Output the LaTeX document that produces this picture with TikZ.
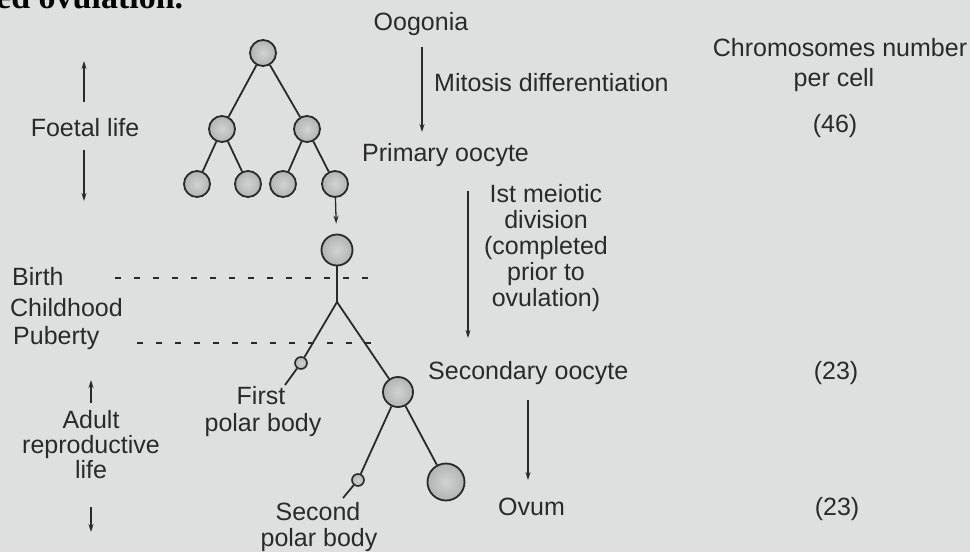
\documentclass[tikz,border=0pt]{standalone}
\usepackage{fontspec}
\setmainfont{Liberation Sans}
\newfontfamily\headfont{Liberation Serif}
\usetikzlibrary{arrows.meta}
\definecolor{bg}{RGB}{222,224,223}
\definecolor{ink}{RGB}{42,42,42}
\definecolor{cellin}{RGB}{210,210,210}
\definecolor{cellout}{RGB}{178,179,179}
\begin{document}
\begin{tikzpicture}[x=1pt,y=-1pt,
  lbl/.style={inner sep=0pt, text=ink, font=\fontsize{25}{27}\selectfont, anchor=base},
  cell/.style={circle, draw=ink, line width=1.8pt, inner color=cellin, outer color=cellout, inner sep=0pt, minimum size=#1},
  link/.style={draw=ink, line width=1.8pt},
  arr/.style={draw=ink, line width=1.3pt, -{Stealth[length=8pt,width=5pt]}},
  dots/.style={draw=ink, line width=2.4pt, dash pattern=on 6pt off 13pt}]
\fill[bg] (0,0) rectangle (970,552);
\useasboundingbox (0,0) rectangle (970,552);

% clipped heading of the page
\node[anchor=base west, inner sep=0pt, text=black, font=\headfont\bfseries\fontsize{34}{34}\selectfont] (head) at (-4,8) {ed ovulation.};

% cells
\node[cell=26pt] (og) at (263,53) {};
\node[cell=26pt] (l2a) at (222,129) {};
\node[cell=26pt] (l2b) at (307,129) {};
\node[cell=26pt] (l3a) at (197,184) {};
\node[cell=26pt] (l3b) at (248,184) {};
\node[cell=26pt] (l3c) at (283,184) {};
\node[cell=26pt] (l3d) at (335,184) {};
\node[cell=31pt] (po) at (337,250) {};
\coordinate (br) at (337,302);
\node[cell=12pt, line width=1.6pt] (pb1) at (301,363) {};
\coordinate (pb1t) at (285,385);
\node[cell=30pt] (so) at (398,392) {};
\node[cell=12pt, line width=1.6pt] (pb2) at (358,480) {};
\coordinate (pb2t) at (343,498);
\node[cell=37pt] (ov) at (446,482) {};

% tree links
\draw[link] (og) -- (l2a);
\draw[link] (og) -- (l2b);
\draw[link] (l2a) -- (l3a);
\draw[link] (l2a) -- (l3b);
\draw[link] (l2b) -- (l3c);
\draw[link] (l2b) -- (l3d);
\draw[arr, shorten >=10pt] (l3d) -- (po);
\draw[link] (po) -- (br);
\draw[link] (br) -- (pb1);
\draw[link] (pb1) -- (pb1t);
\draw[link] (br) -- (so);
\draw[link] (so) -- (pb2);
\draw[link] (pb2) -- (pb2t);
\draw[link] (so) -- (ov);

% dotted time lines
\coordinate (birthL) at (115,278);
\coordinate (birthR) at (377,278);
\coordinate (pubL) at (137,343);
\coordinate (pubR) at (379,343);
\draw[dots] (birthL) -- (birthR);
\draw[dots] (pubL) -- (pubR);

% process arrows
\coordinate (mitA) at (422,47);
\coordinate (mitB) at (422,132);
\draw[arr] (mitA) -- (mitB);
\coordinate (meiA) at (468,191);
\coordinate (meiB) at (468,338);
\draw[arr] (meiA) -- (meiB);
\coordinate (ovA) at (528,400);
\coordinate (ovB) at (528,480);
\draw[arr] (ovA) -- (ovB);

% life stage arrows
\coordinate (fuA) at (84,102);
\coordinate (fuB) at (84,61);
\draw[arr] (fuA) -- (fuB);
\coordinate (fdA) at (84,150);
\coordinate (fdB) at (84,201);
\draw[arr] (fdA) -- (fdB);
\coordinate (auA) at (91,403);
\coordinate (auB) at (91,380);
\draw[arr] (auA) -- (auB);
\coordinate (adA) at (91,507);
\coordinate (adB) at (91,532);
\draw[arr] (adA) -- (adB);

% labels
\node[lbl] (tOog) at (421,30) {Oogonia};
\node[lbl, anchor=base west] (tMit) at (434,91) {Mitosis differentiation};
\node[lbl, anchor=base west] (tPri) at (362,161) {Primary oocyte};
\node[lbl] (tMe1) at (546,202) {Ist meiotic};
\node[lbl] (tMe2) at (546,228) {division};
\node[lbl] (tMe3) at (546,254) {(completed};
\node[lbl] (tMe4) at (546,280) {prior to};
\node[lbl] (tMe5) at (546,306) {ovulation)};
\node[lbl, anchor=base west] (tSec) at (428,379) {Secondary oocyte};
\node[lbl, anchor=base west] (tOvum) at (498,515) {Ovum};

\node[lbl] (tChr) at (840,56) {Chromosomes number};
\node[lbl] (tPer) at (834,86) {per cell};
\node[lbl] (t46) at (835,132) {(46)};
\node[lbl] (t23a) at (836,379) {(23)};
\node[lbl] (t23b) at (837,515) {(23)};

\node[lbl] (tFoe) at (85,136) {Foetal life};
\node[lbl, anchor=base west] (tBir) at (12,285) {Birth};
\node[lbl, anchor=base west] (tChi) at (10,316) {Childhood};
\node[lbl, anchor=base west] (tPub) at (13,344) {Puberty};
\node[lbl] (tAd1) at (91,428) {Adult};
\node[lbl] (tAd2) at (91,453) {reproductive};
\node[lbl] (tAd3) at (91,478) {life};

\node[lbl] (tFi1) at (261,404) {First};
\node[lbl] (tFi2) at (263,431) {polar body};
\node[lbl] (tSe1) at (318,520) {Second};
\node[lbl] (tSe2) at (319,546) {polar body};
\end{tikzpicture}
\end{document}
